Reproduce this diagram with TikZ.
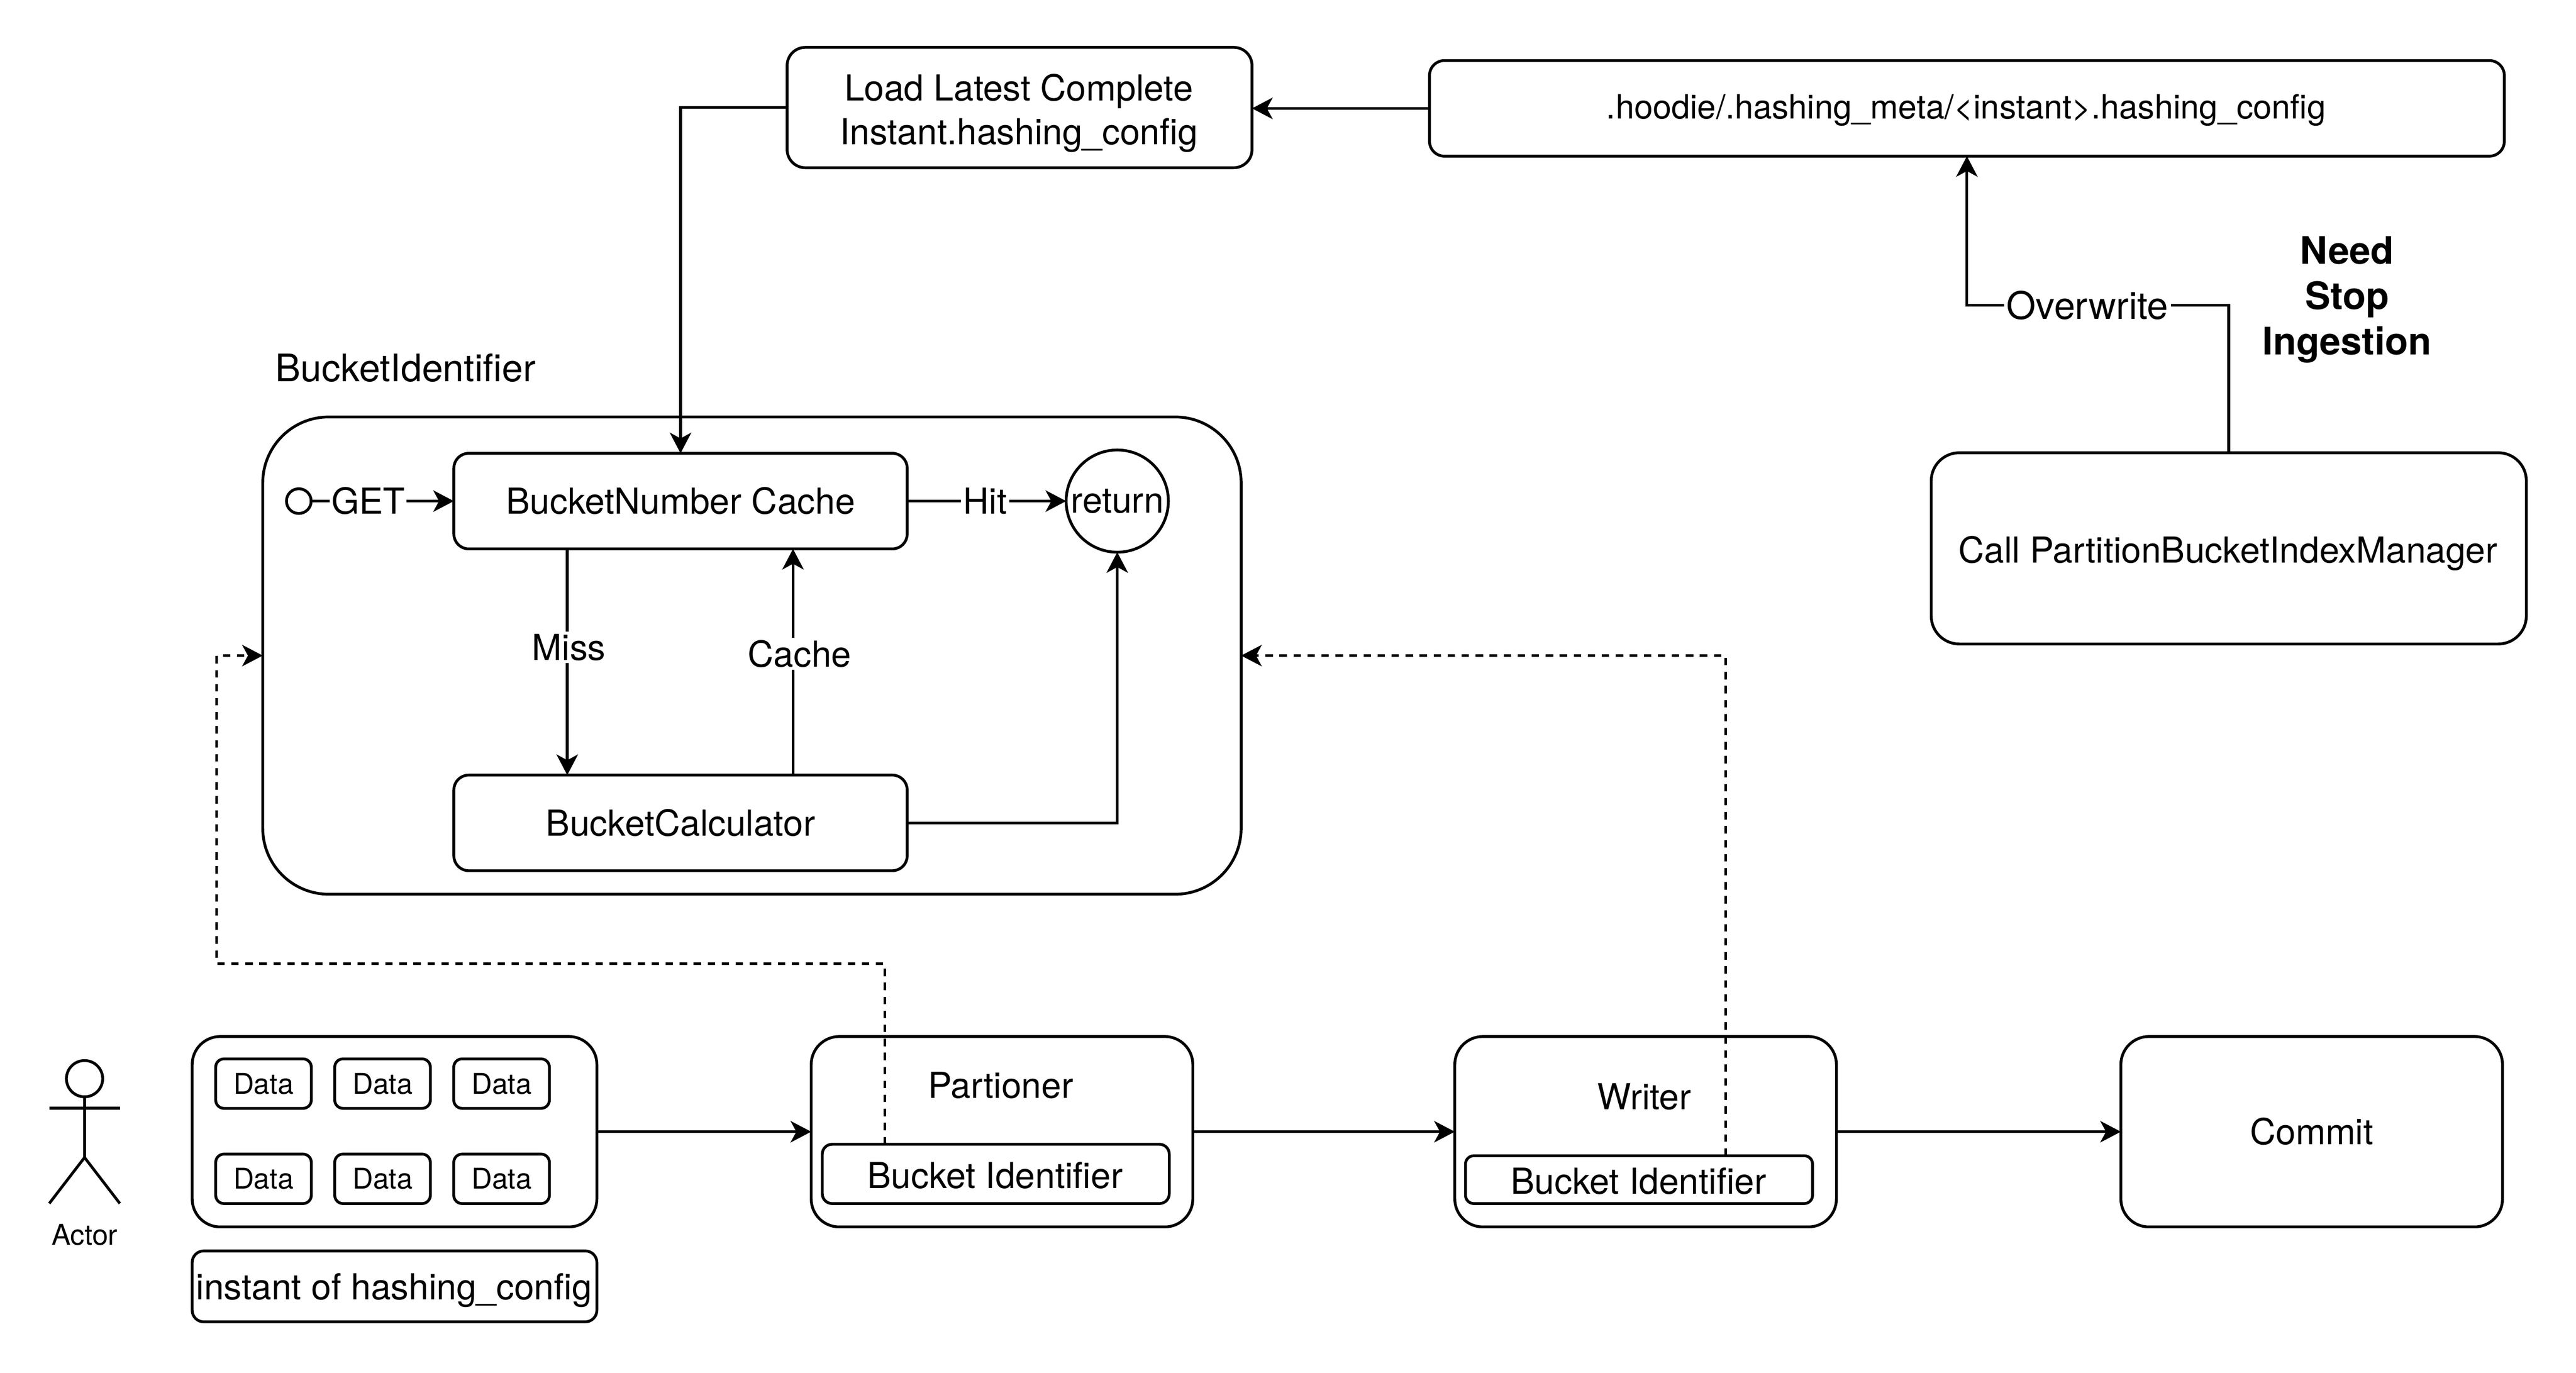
\documentclass[tikz,border=0pt]{standalone}
\usepackage{fontspec}
\setmainfont{TeX Gyre Heros}
\usetikzlibrary{arrows.meta}
\newcommand{\fA}{\fontsize{21.7}{26.5}\selectfont}
\newcommand{\fB}{\fontsize{20.3}{24}\selectfont}
\newcommand{\fC}{\fontsize{17.3}{20}\selectfont}
\newcommand{\fD}{\fontsize{23}{27.5}\selectfont}
\tikzset{
  bx/.style n args={3}{draw=black,line width=1.7pt,rectangle,rounded corners=#3pt,minimum width=#1pt,minimum height=#2pt,inner sep=0pt,outer sep=0pt,align=center,font=\fA,text=black,fill=white},
  plain/.style={inner sep=0pt,outer sep=0pt,align=center,font=\fA,text=black},
  lbl/.style={fill=white,inner sep=1.5pt,outer sep=0pt,font=\fA,text=black},
  line/.style={draw=black,line width=1.7pt},
  arr/.style={line,-{Stealth[length=12.5pt,width=13pt,inset=3.5pt]}},
  darr/.style={arr,line width=1.5pt,dash pattern=on 4.5pt off 4pt},
}
\begin{document}
\begin{tikzpicture}[x=0.035cm,y=-0.035cm]
\useasboundingbox (0,0) rectangle (1569,836);
\fill[white] (0,0) rectangle (1569,836);

% top
\node[bx={282}{73}{11}] (load) at (621,65.5) {};
\node[plain] (loadt) at (620.5,69) {Load Latest Complete\\Instant.hashing\_config};
\node[bx={652}{58}{9}] (hoodie) at (1198,66) {};
\node[plain,font=\fB] (hoodiet) at (1197.5,67) {.hoodie/.hashing\_meta/<instant>.hashing\_config};
\node[bx={361}{116}{17}] (call) at (1357.5,334) {};
\node[plain] (callt) at (1357,337) {Call PartitionBucketIndexManager};
\node[plain,font=\fD\bfseries] (stop) at (1429.5,182.5) {Need\\Stop\\Ingestion};

% group
\node[plain,font=\fD] (gl) at (247,224) {BucketIdentifier};
\node[bx={593.5}{289.5}{40}] (group) at (458,399.3) {};
\node[bx={275}{58}{9}] (cache) at (414.5,305.2) {BucketNumber Cache};
\node[bx={275}{58}{9}] (calc) at (414.5,501.2) {BucketCalculator};
\node[draw=black,line width=1.7pt,circle,minimum size=62pt,inner sep=0pt,outer sep=0pt,font=\fA] (ret) at (680.5,305.2) {return};
\node[draw=black,line width=1.7pt,circle,minimum size=15pt,inner sep=0pt,outer sep=0pt] (start) at (182,305.2) {};

% bottom
\node[bx={245.5}{115.5}{17}] (data) at (240.3,689.3) {};
\foreach \n/\cx/\cy in {d1/160.5/660,d2/233/660,d3/305.5/660,d4/160.5/718,d5/233/718,d6/305.5/718}{
  \node[bx={58}{30}{5},font=\fC] (\n) at (\cx,\cy) {Data};
}
\node[bx={245.5}{43}{7}] (inst) at (240.3,783.5) {};
\node[plain] (instt) at (240,786) {instant of hashing\_config};

\node[bx={231.5}{115.5}{17}] (part) at (610.3,689.3) {};
\node[plain] (partl) at (609.5,661) {Partioner};
\node[bx={210.5}{36}{6}] (pbi) at (606.5,715) {};
\node[plain] (pbit) at (606,716) {Bucket Identifier};

\node[bx={231.5}{115.5}{17}] (writer) at (1002.3,689.3) {};
\node[plain] (writerl) at (1001.5,668) {Writer};
\node[bx={210.5}{29}{5}] (wbi) at (998.3,718.5) {};
\node[plain] (wbit) at (998,719.5) {Bucket Identifier};

\node[bx={231.5}{115.5}{17}] (commit) at (1408,689.3) {Commit};

% actor
\node[draw=black,line width=1.7pt,circle,minimum size=22pt,inner sep=0pt,outer sep=0pt] (head) at (51.5,657) {};
\coordinate (hip) at (51.5,705);
\coordinate (al) at (30,675);
\coordinate (ar) at (73,675);
\coordinate (ll) at (30,733);
\coordinate (lr) at (73,733);
\draw[line] (head.south) -- (hip) -- (ll);
\draw[line] (hip) -- (lr);
\draw[line] (al) -- (ar);
\node[plain,font=\fC] (actor) at (51.5,752) {Actor};

% connectors
\draw[arr] (hoodie.west) -- (load.east |- hoodie.west);
\draw[arr] (load.west) -- (cache.north |- load.west) -- (cache.north);

\coordinate (ow) at (0,186);
\draw[arr] (call.north) -- (call.north |- ow) -- node[lbl,pos=.54,font=\fD] {Overwrite} (hoodie.south |- ow) -- (hoodie.south);

\draw[arr] (start.east) -- node[lbl,pos=.40,inner xsep=1pt] {GET} (cache.west);
\draw[arr] (cache.east) -- node[lbl,pos=.49] {Hit} (ret.west);

\coordinate (mx) at (345.5,0);
\coordinate (cx) at (483,0);
\draw[arr] (mx |- cache.south) -- node[lbl,pos=.435,xshift=1pt] {Miss} (mx |- calc.north);
\draw[arr] (cx |- calc.north) -- node[lbl,pos=.536,xshift=4pt] {Cache} (cx |- cache.south);
\draw[arr] (calc.east) -- (ret.south |- calc.east) -- (ret.south);

\draw[arr] (data.east) -- (part.west);
\draw[arr] (part.east) -- (writer.west);
\draw[arr] (writer.east) -- (commit.west);

\coordinate (px) at (539,0);
\coordinate (wx) at (1051,0);
\coordinate (py) at (0,587);
\coordinate (lx) at (132,0);
\draw[darr] (px |- pbi.north) -- (px |- py) -- (lx |- py) -- (lx |- group.west) -- (group.west);
\draw[darr] (wx |- wbi.north) -- (wx |- group.east) -- (group.east);
\end{tikzpicture}
\end{document}
